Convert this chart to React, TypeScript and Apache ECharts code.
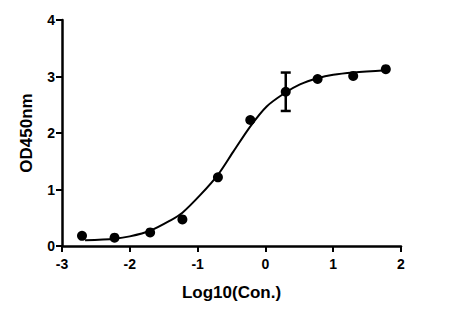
import React, { useEffect, useRef } from "react";
import * as echarts from "echarts";

const pointX = [-2.705, -2.225, -1.70, -1.224, -0.70, -0.223, 0.30, 0.77, 1.295, 1.776];
const pointY = [0.18, 0.147, 0.24, 0.47, 1.215, 2.23, 2.73, 2.955, 3.01, 3.13];

const curveX = [-2.66, -2.22, -2.0, -1.70, -1.405, -1.224, -0.963, -0.70, -0.473, -0.227, 0.019, 0.289, 0.51, 0.77, 1.0, 1.30, 1.78];
const curveY = [0.10, 0.13, 0.17, 0.27, 0.45, 0.59, 0.90, 1.26, 1.67, 2.11, 2.47, 2.71, 2.86, 2.97, 3.03, 3.07, 3.11];

const errX = [0.30];
const errLow = [2.39];
const errHigh = [3.07];

const xTicks = [-3, -2, -1, 0, 1, 2];
const yTicks = [0, 1, 2, 3, 4];

export default function App() {
  const ref = useRef<HTMLDivElement>(null);
  useEffect(() => {
    if (!ref.current) return;
    const chart = echarts.init(ref.current, null, { renderer: "svg" });
    const font = "'Liberation Sans', Arial, sans-serif";
    chart.setOption({
      animation: false,
      backgroundColor: "#ffffff",
      grid: { left: 62, right: 52, top: 20, bottom: 70 },
      xAxis: {
        type: "value",
        min: xTicks[0],
        max: xTicks[xTicks.length - 1],
        interval: 1,
        name: "Log10(Con.)",
        nameLocation: "middle",
        nameGap: 38,
        nameTextStyle: { color: "#000", fontWeight: "bold", fontSize: 17, fontFamily: font },
        axisLine: { lineStyle: { color: "#000", width: 2.5 } },
        axisTick: { length: 6, lineStyle: { color: "#000", width: 2 } },
        axisLabel: { color: "#000", fontWeight: "bold", fontSize: 14, fontFamily: font, margin: 11 },
        splitLine: { show: false },
      },
      yAxis: {
        type: "value",
        min: yTicks[0],
        max: yTicks[yTicks.length - 1],
        interval: 1,
        name: "OD450nm",
        nameLocation: "middle",
        nameGap: 27,
        nameTextStyle: { color: "#000", fontWeight: "bold", fontSize: 17, fontFamily: font },
        axisLine: { onZero: false, lineStyle: { color: "#000", width: 2.5 } },
        axisTick: { length: 6, lineStyle: { color: "#000", width: 2 } },
        axisLabel: { color: "#000", fontWeight: "bold", fontSize: 14, fontFamily: font, margin: 7 },
        splitLine: { show: false },
      },
      series: [
        {
          type: "line",
          data: curveX.map((x, i) => [x, curveY[i]]),
          smooth: 0.3,
          showSymbol: false,
          lineStyle: { color: "#000", width: 2 },
          z: 2,
        },
        {
          type: "scatter",
          data: pointX.map((x, i) => [x, pointY[i]]),
          symbolSize: 10,
          itemStyle: { color: "#000", opacity: 1 },
          z: 3,
        },
        {
          type: "custom",
          data: errX.map((x, i) => [x, errLow[i], errHigh[i]]),
          renderItem: (params: any, api: any) => {
            const lo = api.coord([api.value(0), api.value(1)]);
            const hi = api.coord([api.value(0), api.value(2)]);
            const half = 5;
            const style = { stroke: "#000", lineWidth: 2.5 };
            return {
              type: "group",
              children: [
                { type: "line", shape: { x1: lo[0], y1: lo[1], x2: hi[0], y2: hi[1] }, style },
                { type: "line", shape: { x1: lo[0] - half, y1: lo[1], x2: lo[0] + half, y2: lo[1] }, style },
                { type: "line", shape: { x1: hi[0] - half, y1: hi[1], x2: hi[0] + half, y2: hi[1] }, style },
              ],
            };
          },
          z: 4,
        },
      ],
    });
    return () => chart.dispose();
  }, []);
  return <div ref={ref} style={{ width: 453, height: 316, margin: -8 }} />;
}
